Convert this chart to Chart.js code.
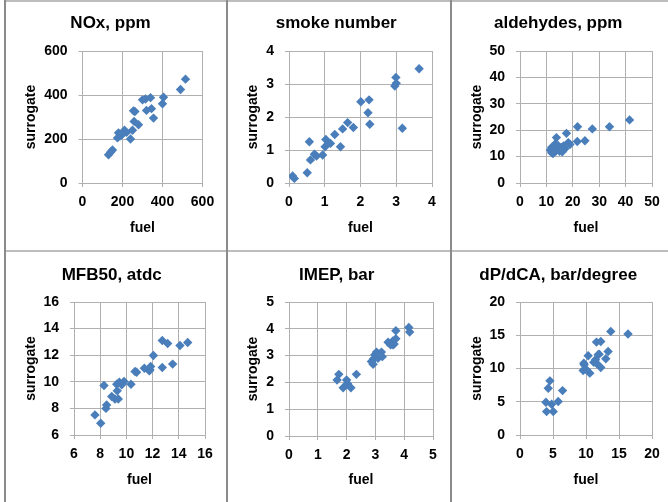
<!DOCTYPE html>
<html>
<head>
<meta charset="utf-8">
<script src="https://cdn.jsdelivr.net/npm/chart.js@4.4.1/dist/chart.umd.min.js"></script>
<style>
  body { margin: 0; background: #fff; }
  #wrap { position: relative; width: 668px; height: 502px; overflow: hidden; background: #fff; }
  canvas { position: absolute; }
  .line { position: absolute; }
</style>
</head>
<body>
<div id="wrap">
  <div class="line" style="left:4px;top:0;width:664px;height:2px;background:#bdbdbd"></div>
  <div class="line" style="left:4px;top:250px;width:664px;height:2px;background:#bdbdbd"></div>
  <div class="line" style="left:4px;top:0;width:2px;height:502px;background:#8a8a8a"></div>
  <div class="line" style="left:226px;top:0;width:2px;height:502px;background:#8a8a8a"></div>
  <div class="line" style="left:450px;top:0;width:2px;height:502px;background:#8a8a8a"></div>
  <canvas id="c1"></canvas>
  <canvas id="c2"></canvas>
  <canvas id="c3"></canvas>
  <canvas id="c4"></canvas>
  <canvas id="c5"></canvas>
  <canvas id="c6"></canvas>
</div>
<script>
// NOx, ppm
const noxFuel = [130, 140, 150, 175, 180, 190, 200, 210, 220, 240, 250, 258, 255, 262, 280, 300, 315, 320, 340, 345, 355, 400, 405, 490, 515];
const noxSurr = [128, 140, 150, 205, 228, 215, 222, 240, 230, 200, 240, 280, 328, 325, 265, 378, 382, 330, 388, 338, 295, 360, 390, 425, 472];

// smoke number
const smokeFuel = [3.64, 2.99, 3.0, 2.96, 3.17, 2.01, 2.24, 2.21, 2.26, 1.80, 1.64, 1.50, 1.28, 1.44, 1.16, 1.03, 1.01, 0.57, 0.94, 0.77, 0.71, 0.60, 0.51, 0.10, 0.15];
const smokeSurr = [3.46, 3.20, 3.02, 2.94, 1.66, 2.46, 2.52, 2.13, 1.78, 1.68, 1.83, 1.64, 1.47, 1.10, 1.20, 1.32, 1.10, 1.25, 0.85, 0.82, 0.87, 0.70, 0.31, 0.21, 0.14];

// aldehydes, ppm
const aldFuel = [41.5, 33.9, 27.4, 21.8, 24.6, 21.7, 17.6, 13.8, 18.9, 18.3, 11.5, 12, 12.5, 13, 13.5, 14, 14.5, 15, 15.5, 16, 16.5, 17, 12, 13.5];
const aldSurr = [23.9, 21.3, 20.5, 21.3, 16.0, 15.7, 18.8, 17.2, 14.6, 15.3, 12.5, 13.5, 11.2, 14, 12, 13, 14, 12, 13.5, 11.8, 14, 13, 11.5, 15];

// MFB50, atdc
const mfbFuel = [7.60, 8.04, 8.29, 8.44, 8.49, 8.88, 9.13, 9.30, 9.38, 9.26, 9.46, 9.64, 9.82, 10.35, 10.66, 10.78, 11.37, 11.80, 11.85, 12.06, 12.74, 12.74, 13.15, 13.53, 14.09, 14.68, 11.75];
const mfbSurr = [7.51, 6.88, 9.72, 8.00, 8.26, 8.89, 8.71, 9.32, 8.71, 9.82, 9.97, 9.77, 10.02, 9.82, 10.77, 10.72, 11.02, 10.90, 11.15, 11.98, 11.08, 13.11, 12.88, 11.33, 12.73, 12.96, 10.82];

// IMEP, bar
const imepFuel = [1.67, 1.73, 1.88, 2.00, 2.03, 2.15, 2.34, 2.86, 2.92, 2.98, 3.04, 3.09, 3.21, 3.24, 3.44, 3.53, 3.61, 3.65, 3.71, 3.71, 3.61, 4.16, 4.19, 2.94];
const imepSurr = [2.09, 2.30, 1.80, 2.09, 1.96, 1.80, 2.30, 2.78, 2.68, 3.03, 3.13, 2.90, 3.13, 2.96, 3.50, 3.40, 3.55, 3.43, 3.63, 3.93, 3.40, 4.05, 3.88, 2.88];

// dP/dCA, bar/degree
const dpFuel = [16.37, 13.75, 11.59, 12.24, 13.35, 13.0, 11.99, 12.24, 11.44, 11.59, 11.18, 10.33, 9.67, 9.57, 10.08, 10.58, 9.72, 11.84, 6.45, 5.79, 4.53, 4.28, 3.93, 4.03, 5.04, 4.79];
const dpSurr = [15.18, 15.58, 13.97, 14.07, 12.56, 11.46, 12.16, 10.15, 11.31, 10.80, 10.95, 11.91, 10.80, 9.70, 9.80, 9.30, 10.55, 12.06, 6.68, 5.03, 8.14, 7.04, 4.92, 3.52, 3.52, 4.62];

const FONT = "'Liberation Sans', Arial, sans-serif";
const GRID = '#b0b0b0';
const MARK = '#4A7EBB';

function makePanel(id, cell, plot, title, xs, ys, xr, yr) {
    const canvas = document.getElementById(id);
    canvas.width = cell.w;
    canvas.height = cell.h;
    canvas.style.left = cell.x + 'px';
    canvas.style.top = cell.y + 'px';

    // work out paddings so the plot area lands where it does in the picture
    const padL = 12.5;
    const yWidth = plot.l - cell.x - padL;
    const padR = cell.x + cell.w - plot.r;
    const titleCenter = cell.y < 100 ? 23 : 275;
    const fuelCenter = cell.y < 100 ? 228 : 480;
    const tLine = 17 * 1.2;
    const tTop = titleCenter - cell.y - tLine / 2;
    const tBot = plot.t - cell.y - tTop - tLine;
    const padB = cell.y + cell.h - 12.4 - fuelCenter;
    const xHeight = cell.y + cell.h - padB - plot.b;

    const tickFont = { family: FONT, size: 14, weight: 'bold' };

    new Chart(canvas, {
        type: 'scatter',
        data: {
            datasets: [{
                data: xs.map((x, i) => ({ x: x, y: ys[i] })),
                pointStyle: 'rectRot',
                pointRadius: 4.7,
                backgroundColor: MARK,
                borderColor: MARK,
                borderWidth: 0
            }]
        },
        options: {
            responsive: false,
            animation: false,
            devicePixelRatio: 1,
            layout: { padding: { left: padL, right: padR, top: 0, bottom: padB } },
            plugins: {
                legend: { display: false },
                tooltip: { enabled: false },
                title: {
                    display: true,
                    text: title,
                    color: '#000',
                    font: { family: FONT, size: 17, weight: 'bold', lineHeight: 1.2 },
                    padding: { top: tTop, bottom: tBot }
                }
            },
            scales: {
                x: {
                    type: 'linear',
                    min: xr[0], max: xr[1],
                    ticks: { stepSize: xr[2], font: tickFont, color: '#000', padding: 7 },
                    grid: { color: GRID, tickLength: 4 },
                    border: { color: GRID },
                    title: { display: true, text: 'fuel', color: '#000', font: tickFont, padding: { top: 0, bottom: 4 } },
                    afterFit: s => { s.height = xHeight; }
                },
                y: {
                    type: 'linear',
                    min: yr[0], max: yr[1],
                    ticks: { stepSize: yr[2], font: tickFont, color: '#000', padding: 11 },
                    grid: { color: GRID, tickLength: 4 },
                    border: { color: GRID },
                    title: { display: true, text: 'surrogate', color: '#000', font: tickFont, padding: { top: 4, bottom: 0 } },
                    afterFit: s => { s.width = yWidth; }
                }
            }
        }
    });
}

const row0 = { y: 2, h: 248 };
const row1 = { y: 252, h: 250 };

makePanel('c1', { x: 6, w: 220, ...row0 }, { l: 82.5, r: 202.5, t: 51, b: 183 }, 'NOx, ppm', noxFuel, noxSurr, [0, 600, 200], [0, 600, 200]);
makePanel('c2', { x: 228, w: 222, ...row0 }, { l: 289, r: 432, t: 51, b: 183 }, 'smoke number', smokeFuel, smokeSurr, [0, 4, 1], [0, 4, 1]);
makePanel('c3', { x: 452, w: 216, ...row0 }, { l: 520, r: 652, t: 51, b: 183 }, 'aldehydes, ppm', aldFuel, aldSurr, [0, 50, 10], [0, 50, 10]);
makePanel('c4', { x: 6, w: 220, ...row1 }, { l: 74, r: 205, t: 302, b: 435 }, 'MFB50, atdc', mfbFuel, mfbSurr, [6, 16, 2], [6, 16, 2]);
makePanel('c5', { x: 228, w: 222, ...row1 }, { l: 289, r: 433, t: 302, b: 436 }, 'IMEP, bar', imepFuel, imepSurr, [0, 5, 1], [0, 5, 1]);
makePanel('c6', { x: 452, w: 216, ...row1 }, { l: 520, r: 652, t: 302, b: 435 }, 'dP/dCA, bar/degree', dpFuel, dpSurr, [0, 20, 5], [0, 20, 5]);
</script>
</body>
</html>
